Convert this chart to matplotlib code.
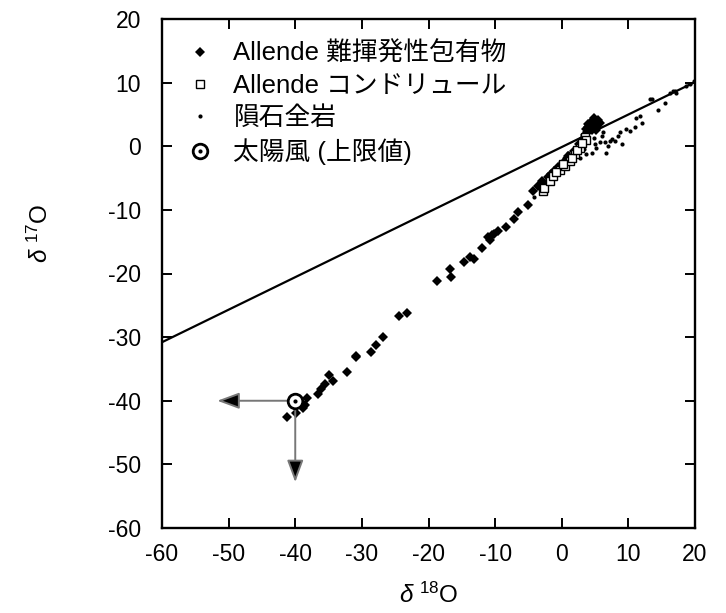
import matplotlib
matplotlib.use("Agg")
import matplotlib.pyplot as plt
from matplotlib.lines import Line2D

plt.rcParams['font.family'] = ['Liberation Sans', 'Noto Sans CJK JP']
plt.rcParams['mathtext.fontset'] = 'custom'
plt.rcParams['mathtext.rm'] = 'Liberation Sans'
plt.rcParams['mathtext.it'] = 'Liberation Sans:italic'
plt.rcParams['axes.unicode_minus'] = False

# Terrestrial fractionation line endpoints
tfl_x = [-60, 20]
tfl_y = [-30.8, 10.1]

# Allende CAIs (filled diamonds)
cai_x = [-41.3, -39.9, -38.9, -38.6, -38.2, -36.6, -36.1, -35.6, -34.4, -35.0, -32.2, -30.9, -30.9,
         -28.6, -27.9, -26.8, -24.4, -23.2, -18.7, -16.6, -16.8, -14.6, -13.8, -13.1, -11.9, -10.8,
         -11.0, -10.4, -10.1, -9.6, -8.3, -7.1, -6.6, -5.1, -4.3, -3.5, -2.8, -2.0, -1.2, -0.5, 0.3,
         1.0, 1.8, 2.6, 3.5, 3.8, 4.0, 4.2, 4.5, 4.6, 5.0, 5.3, 5.5, 3.2, 4.8, 3.9, 4.3, 5.1, 5.7,
         3.6, 4.9, -3.0, -1.6]
cai_y = [-42.5, -42.0, -41.2, -40.7, -39.5, -39.0, -38.2, -37.3, -36.9, -35.9, -35.5, -32.9, -33.2,
         -32.4, -31.2, -30.0, -26.7, -26.2, -21.2, -20.6, -19.3, -18.2, -17.4, -17.7, -16.0, -14.8,
         -14.3, -14.0, -13.8, -13.3, -12.7, -11.4, -10.4, -9.3, -7.0, -6.3, -5.8, -4.9, -3.9, -3.2, -2.4,
         -1.5, -0.7, 0.4, 1.8, 2.2, 3.5, 2.8, 4.0, 2.5, 3.8, 3.2, 4.1, 1.2, 4.5, 3.0, 3.3, 2.6, 3.6,
         2.7, 3.0, -5.5, -4.4]

# Allende chondrules (open squares)
chon_x = [-2.8, -2.6, -1.8, -1.3, -0.3, 0.5, 1.2, 2.0, 2.7, 3.5, 3.7, 1.5, -0.8, 0.2, 2.3, 3.0]
chon_y = [-7.0, -6.5, -5.4, -4.6, -3.8, -3.1, -2.3, -1.2, -0.2, 1.4, 1.0, -1.8, -4.0, -2.8, -0.6, 0.5]

# Meteorite whole rocks (small dots)
wr_x = [-4.3, -4.2, -0.6, -0.3, 0.9, 1.7, 2.7, 3.7, 4.5, 5.2, 6.7, 5.7, 6.0, 6.5, 7.2, 8.0, 9.0, 8.5,
        8.7, 9.7, 10.2, 11.0, 12.1, 11.7, 11.2, 13.5, 14.5, 15.5, 16.7, 17.2, 18.7, 19.2, 6.2, 13.2,
        16.2, 17.0, 2.0, 1.0, 3.0, 4.0, 19.8, -1.5, -2.2, 0.3, 5.0, 7.6, 3.4, 6.9, 4.8]
wr_y = [-7.0, -8.0, -3.8, -2.5, -2.3, -1.5, -1.8, -1.2, -1.0, -0.2, -1.0, 0.6, 1.6, 0.6, 0.9, 0.9, 0.3,
        1.6, 2.2, 2.7, 2.4, 2.95, 3.7, 4.8, 4.5, 7.4, 5.7, 6.8, 8.7, 8.4, 9.5, 9.8, 2.2, 7.4, 8.4, 8.7,
        -0.5, -1.0, 0.0, 0.8, 10.2, -4.2, -5.0, -1.9, 0.3, 1.2, -0.4, 0.1, 1.3]

# Solar wind (upper limit) and arrow ends
sw_x = [-40.0]
sw_y = [-40.0]
arrow_left_x = -51.7
arrow_down_y = -52.8

labels = ['Allende 難揮発性包有物', 'Allende コンドリュール', '隕石全岩', '太陽風 (上限値)']
xticks = [-60, -50, -40, -30, -20, -10, 0, 10, 20]
yticks = [-60, -50, -40, -30, -20, -10, 0, 10, 20]

fig = plt.figure(figsize=(7.26, 6.13), dpi=100)
ax = fig.add_axes([162 / 726, 1 - 528 / 613, 533 / 726, 509 / 613])

ax.plot(tfl_x, tfl_y, color='black', lw=1.6, zorder=2)
ax.plot(cai_x, cai_y, 'D', color='black', ms=5.0, mew=0, zorder=3)
ax.plot(chon_x, chon_y, 's', mfc='white', mec='black', ms=5.5, mew=1.0, zorder=4)
ax.plot(wr_x, wr_y, 'o', color='black', ms=3.0, mew=0, zorder=3)

arrowstyle = '-|>,head_length=1.35,head_width=0.5'
ax.annotate('', xy=(arrow_left_x, sw_y[0]), xytext=(sw_x[0], sw_y[0]),
            arrowprops=dict(arrowstyle=arrowstyle, ec='#777777', fc='black', lw=1.4,
                            shrinkA=0, shrinkB=0), zorder=5)
ax.annotate('', xy=(sw_x[0], arrow_down_y), xytext=(sw_x[0], sw_y[0]),
            arrowprops=dict(arrowstyle=arrowstyle, ec='#777777', fc='black', lw=1.4,
                            shrinkA=0, shrinkB=0), zorder=5)
ax.plot(sw_x, sw_y, 'o', mfc='white', mec='black', ms=10.5, mew=2.0, zorder=6)
ax.plot(sw_x, sw_y, 'o', color='black', ms=3, mew=0, zorder=7)

ax.set_xlim(-60, 20)
ax.set_ylim(-60, 20)
ax.set_xticks(xticks)
ax.set_yticks(yticks)
ax.tick_params(direction='in', length=7.5, width=1.4, labelsize=16.5, top=True, right=True)
ax.tick_params(axis='x', pad=11)
ax.tick_params(axis='y', pad=15)
for s in ax.spines.values():
    s.set_linewidth(1.7)

ax.set_xlabel(r'$\delta$ $^{18}$O', fontsize=17.5)
ax.xaxis.set_label_coords(0.5, -0.108)
ax.set_ylabel(r'$\delta$ $^{17}$O', fontsize=17.5)
ax.yaxis.set_label_coords(-0.205, 0.58)

h_cai = Line2D([], [], ls='none', marker='D', color='black', ms=5.0, mew=0)
h_chon = Line2D([], [], ls='none', marker='s', mfc='white', mec='black', ms=5.5, mew=1.0)
h_wr = Line2D([], [], ls='none', marker='o', color='black', ms=3.0, mew=0)
h_sw1 = Line2D([], [], ls='none', marker='o', mfc='white', mec='black', ms=10.5, mew=2.0)
h_sw2 = Line2D([], [], ls='none', marker='o', color='black', ms=3, mew=0)
ax.legend([h_cai, h_chon, h_wr, (h_sw1, h_sw2)], labels, loc='upper left',
          bbox_to_anchor=(0.028, 0.976), frameon=False, fontsize=18.5, handlelength=1.0,
          handletextpad=0.8, labelspacing=0.32, borderaxespad=0.0, borderpad=0.4)

fig.savefig('out.png', dpi=100)
